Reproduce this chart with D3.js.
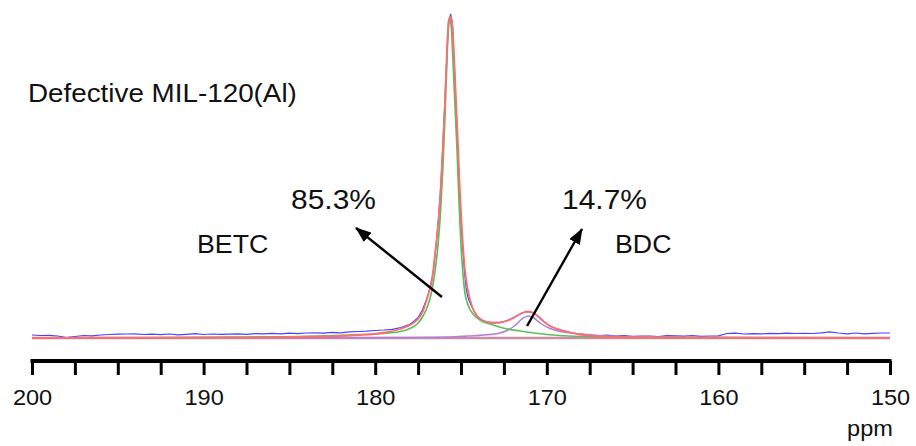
<!DOCTYPE html>
<html>
<head>
<meta charset="utf-8">
<script src="https://cdn.jsdelivr.net/npm/d3@7/dist/d3.min.js"></script>
<style>
  html, body { margin: 0; padding: 0; background: #fff; }
  svg { display: block; }
  text { font-family: "Liberation Sans", Arial, Helvetica, sans-serif; fill: #111; }
</style>
</head>
<body>
<svg id="chart" width="916" height="446"></svg>
<script>
// 13C NMR spectrum of defective MIL-120(Al) with its two-component fit.
// Chemical shifts in ppm, intensities in arbitrary units.

// Experimental spectrum
const expPpm = [200,199.5,199,198.5,198,197.5,197,196.5,196,195.5,195,194.5,194,193.5,193,192.5,192,191.5,191,190.5,190,189.5,189,188.5,188,187.5,187,186.5,186,185.5,185,184.5,184,183.5,183,182.5,182,181.5,181,180.5,180,179.5,179,178.5,178,177.75,177.5,177.25,177,176.9,176.8,176.7,176.6,176.5,176.4,176.3,176.2,176.1,176,175.9,175.8,175.7,175.6,175.5,175.4,175.3,175.2,175.1,175,174.9,174.8,174.7,174.6,174.5,174.25,174,173.75,173.5,173.25,173,172.75,172.5,172.25,172,171.75,171.5,171.25,171,170.75,170.5,170.25,170,169.75,169.5,169,168.5,168,167.5,167,166.5,166,165.5,165,164.5,164,163.5,163,162.5,162,161.5,161,160.5,160,159.5,159,158.5,158,157.5,157,156.5,156,155.5,155,154.5,154,153.5,153,152.5,152,151.5,151,150.5,150];
const expInt = [3,2.5,2.7,2,0.5,1.5,2.5,2.2,3,3.5,3.8,4,4.2,3.5,3.9,3.4,4,3.2,3.7,4.3,3.5,4,3.6,3.9,4.2,3.7,4.4,4.1,4.6,4.2,4.8,4.4,5,5.2,4.8,5.6,5.2,6.1,6.5,6.8,7.5,8,8.7,10.5,13.5,16.5,20.5,28,39,44,51,59,68,85,102,122,146,178,214,252,291,316,324,314,276,234,188,148,116,90,66,50,41,36,27,21,17.5,16,15.2,15,15.4,16.5,18,20,22,24.5,26,26.2,25,21.5,17.5,14,11.5,9.5,7,5,3.8,2.5,2.2,2.8,2,2.5,1.7,2,2,1.5,2.4,2.2,1.8,2.5,1.7,2,2.2,4.5,4.8,4,4.4,4.2,4.7,4.3,4.8,4.5,4.6,4.5,5.1,6.2,5,4.2,5,4.2,4.6,5,5];

// Fitted envelope (sum of components)
const fitPpm = [200,187.3,183.2,180.9,179.43,178.55,177.97,177.56,177.21,176.92,176.69,176.52,176.34,176.17,176.05,175.93,175.82,175.71,175.61,175.52,175.41,175.29,175.17,175.06,174.94,174.77,174.6,174.48,174.3,174.07,173.72,173.19,172.73,172.26,171.85,171.45,171.1,170.75,170.4,169.81,168.94,168.07,166.9,163.99,150];
const fitInt = [0,0.5,1.5,3,5.5,9,13,18,27,43,58,83,113,153,193,238,288,318,321,316,284,238,192,146,108,68,48,39,29,22,17.5,15.5,15.5,17.5,21,25,26.5,25,20,12,7,3.5,1.5,0.5,0];

// BETC carboxylate component
const betcPpm = [200,193.1,187.3,183.2,181.5,179.6,178.55,177.97,177.56,177.21,176.92,176.69,176.52,176.34,176.17,176.05,175.93,175.82,175.73,175.67,175.58,175.47,175.35,175.23,175.12,175,174.88,174.77,174.59,174.3,173.89,173.31,172.55,171.56,169.99,168.07,163.99,158.16,150];
const betcInt = [0,0.2,1,2,3,4.5,6.5,9.5,14,22,33,48,66,93,133,173,223,278,314,320,314,278,233,188,138,93,63,45,33,24,18,14,10,7,3.5,1.5,0.5,0.2,0];

// BDC carboxylate component
const bdcPpm = [200,184.4,178.55,175.61,174.65,173.31,172.73,172.26,171.85,171.45,171.1,170.75,170.4,169.81,169.23,168.07,165.73,161.07,150];
const bdcInt = [0,0,0.5,1,2,3.5,5,8,12.5,19,22,20,15,9.5,6.5,4,1.5,0.5,0];

// Axis ticks
const tickPpm = [200,197.5,195,192.5,190,187.5,185,182.5,180,177.5,175,172.5,170,167.5,165,162.5,160,157.5,155,152.5,150];
const tickLabels = [200,190,180,170,160,150];

// Component shares and the arrows pointing at each component
const shareLabels = ["85.3%", "14.7%"];
const componentNames = ["BETC", "BDC"];
const arrowFromPpm = [176.11, 171.15];
const arrowFromInt = [41, 12];
const arrowToPpm = [181.12, 167.95];
const arrowToInt = [110, 109];

const svg = d3.select("#chart");

const x = d3.scaleLinear().domain([200, 150]).range([32, 890]);
const y = d3.scaleLinear().domain([0, 320]).range([338, 18]);

const zip = (a, b) => a.map((v, i) => [v, b[i]]);

// Defs: arrowhead
svg.append("defs").append("marker")
  .attr("id", "head")
  .attr("markerUnits", "userSpaceOnUse")
  .attr("viewBox", "0 0 16 12")
  .attr("refX", 15).attr("refY", 6)
  .attr("markerWidth", 16).attr("markerHeight", 12)
  .attr("orient", "auto")
  .append("path")
  .attr("d", "M0,0 L16,6 L0,12 Z")
  .attr("fill", "#000");

// Baseline band beneath the fitted curves
svg.append("line")
  .attr("x1", x(200)).attr("x2", x(150))
  .attr("y1", y(0)).attr("y2", y(0))
  .attr("stroke", "#cf8aa6").attr("stroke-width", 2.4);

const smooth = d3.line().x(d => x(d[0])).y(d => y(d[1])).curve(d3.curveMonotoneX);
const raw = d3.line().x(d => x(d[0])).y(d => y(d[1]));

// Experimental trace underneath, fits drawn over it
svg.append("path").datum(zip(expPpm, expInt))
  .attr("d", raw).attr("fill", "none")
  .attr("stroke", "#4545ff").attr("stroke-width", 1.2);

svg.append("path").datum(zip(bdcPpm, bdcInt))
  .attr("d", smooth).attr("fill", "none")
  .attr("stroke", "#b07ed8").attr("stroke-width", 1.5);

svg.append("path").datum(zip(betcPpm, betcInt))
  .attr("d", smooth).attr("fill", "none")
  .attr("stroke", "#5dbe5d").attr("stroke-width", 1.7);

svg.append("path").datum(zip(fitPpm, fitInt))
  .attr("d", smooth).attr("fill", "none")
  .attr("stroke", "#ff6e6e").attr("stroke-width", 1.8);

// Axis
const axisY = 361;
const axis = d3.axisBottom(x)
  .tickValues(tickPpm)
  .tickSize(14)
  .tickSizeOuter(0)
  .tickFormat(d => tickLabels.includes(d) ? d3.format("d")(d) : "");

const gAxis = svg.append("g").attr("transform", `translate(0,${axisY})`).call(axis);
gAxis.select(".domain")
  .attr("d", `M${x(200) - 1.5},0H${x(150) + 1.5}`)
  .attr("stroke", "#000").attr("stroke-width", 4);
gAxis.selectAll(".tick line").attr("stroke", "#000").attr("stroke-width", 3);
gAxis.selectAll(".tick text")
  .attr("y", 0).attr("dy", 0)
  .attr("transform", "translate(0,44) scale(1.07,1)")
  .style("font-size", "22px")
  .style("font-family", "'Liberation Sans', Arial, sans-serif")
  .attr("fill", "#111");

// Text helper, glyphs slightly widened
function label(str, px, py, size, anchor) {
  svg.append("text")
    .attr("transform", `translate(${px},${py}) scale(1.07,1)`)
    .attr("text-anchor", anchor || "start")
    .style("font-size", size + "px")
    .text(str);
}

label("ppm", 870, 436, 22, "middle");
label("Defective MIL-120(Al)", 28, 102, 26);

// Share labels and names
label(shareLabels[0], 291, 209, 28);
label(shareLabels[1], 562, 209, 28);
label(componentNames[0], 197, 253, 25);
label(componentNames[1], 615, 253, 25);

// Arrows
arrowFromPpm.forEach((p, i) => {
  svg.append("line")
    .attr("x1", x(p)).attr("y1", y(arrowFromInt[i]))
    .attr("x2", x(arrowToPpm[i])).attr("y2", y(arrowToInt[i]))
    .attr("stroke", "#000").attr("stroke-width", 2.4)
    .attr("marker-end", "url(#head)");
});
</script>
</body>
</html>
